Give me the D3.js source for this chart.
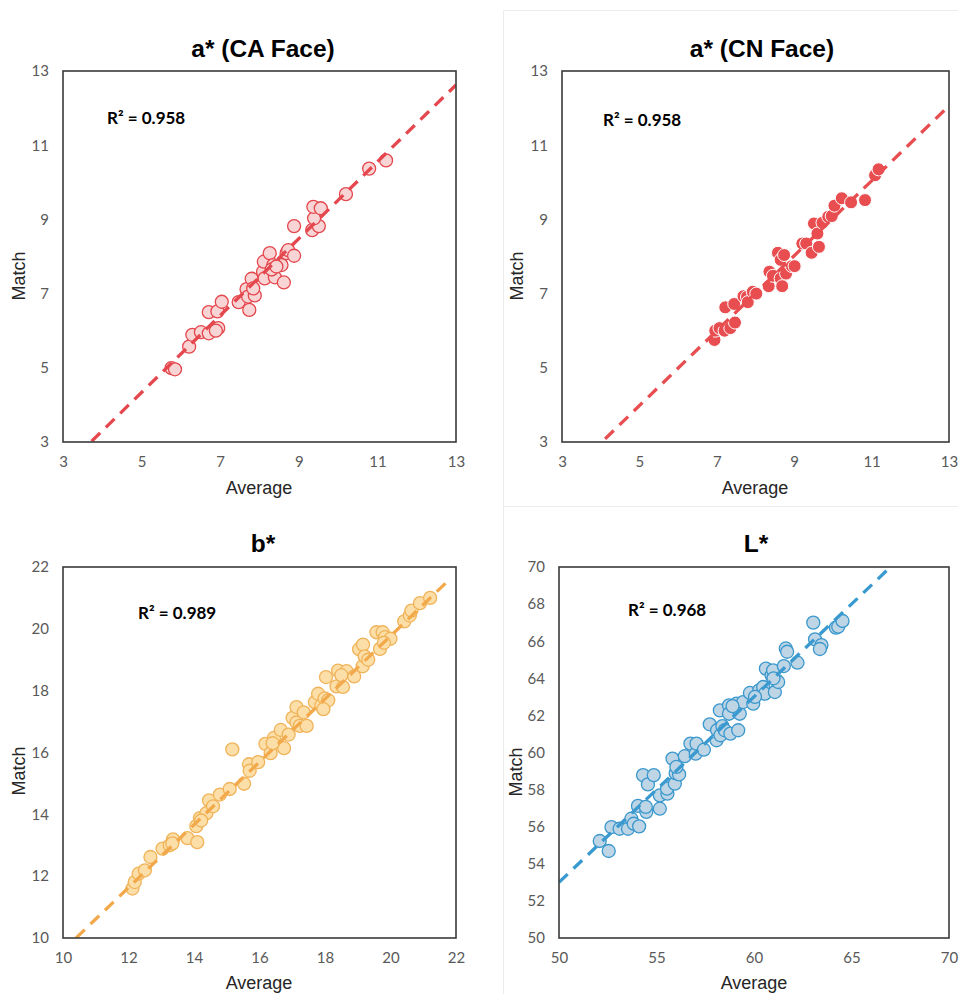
<!DOCTYPE html>
<html>
<head>
<meta charset="utf-8">
<script src="https://cdn.jsdelivr.net/npm/d3@7/dist/d3.min.js"></script>
<style>
  html, body { margin: 0; padding: 0; background: #fff; }
  svg { display: block; }
</style>
</head>
<body>
<svg id="chart" width="960" height="994"></svg>
<script>
// ---- Data: a* (CA Face) ----
const caAvg   = [5.76, 5.85, 6.21, 6.29, 6.51, 6.71, 6.71, 6.93, 6.95, 6.89, 7.04, 7.47, 7.74, 7.67, 7.71, 7.88, 7.80, 7.84, 8.09, 8.13,
                 8.11, 8.26, 8.35, 8.39, 8.56, 8.62, 8.31, 8.43, 8.69, 8.73, 8.88, 8.88, 9.34, 9.51, 9.39, 9.37, 9.56, 10.20, 10.79, 11.22];
const caMatch = [4.99, 4.96, 5.57, 5.89, 5.96, 5.93, 6.50, 6.52, 6.07, 6.00, 6.78, 6.77, 6.56, 7.12, 6.92, 6.95, 7.40, 7.14, 7.59, 7.41,
                 7.86, 8.09, 7.77, 7.44, 7.77, 7.30, 7.65, 7.73, 8.09, 8.17, 8.02, 8.82, 8.71, 8.82, 9.03, 9.34, 9.30, 9.68, 10.37, 10.59];

// ---- Data: a* (CN Face) ----
const cnAvg   = [6.94, 6.96, 7.07, 7.20, 7.35, 7.47, 7.22, 7.45, 7.69, 7.78, 7.80, 7.93, 8.02, 8.34, 8.36, 8.45, 8.58, 8.65, 8.65, 8.69,
                 8.74, 8.79, 8.94, 9.01, 9.21, 9.31, 9.45, 9.51, 9.60, 9.64, 9.73, 9.88, 9.97, 10.04, 10.23, 10.47, 10.83, 11.09, 11.18];
const cnMatch = [5.75, 6.00, 6.07, 6.00, 6.07, 6.22, 6.63, 6.72, 6.93, 6.91, 6.77, 7.05, 7.00, 7.20, 7.59, 7.48, 8.10, 7.91, 7.41, 7.20,
                 8.04, 7.54, 7.74, 7.74, 8.35, 8.35, 8.10, 8.89, 8.62, 8.26, 8.91, 9.07, 9.09, 9.37, 9.57, 9.46, 9.52, 10.19, 10.35];

// ---- Data: b* ----
const bAvg   = [12.12, 12.19, 12.31, 12.50, 12.67, 13.04, 13.26, 13.36, 13.34, 13.80, 14.10, 14.07, 14.18, 14.38, 14.46, 14.58, 14.79, 15.09, 15.17, 15.53,
                15.68, 15.70, 15.96, 16.18, 16.34, 16.44, 16.75, 16.65, 16.89, 17.01, 17.13, 17.13, 17.23, 17.44, 17.35, 17.69, 17.79, 17.89, 17.99, 18.10,
                18.03, 18.35, 18.40, 18.55, 18.66, 18.89, 19.04, 19.16, 19.15, 19.21, 19.32, 19.57, 19.68, 19.76, 19.83, 20.00, 20.42, 20.59, 20.64, 20.90,
                21.21, 14.22, 16.40, 17.95, 18.50, 19.80];
const bMatch = [11.60, 11.81, 12.08, 12.19, 12.62, 12.89, 13.00, 13.19, 13.06, 13.23, 13.10, 13.62, 13.88, 14.04, 14.45, 14.26, 14.64, 14.82, 16.10, 14.99,
                15.62, 15.41, 15.69, 16.28, 15.98, 16.47, 16.14, 16.73, 16.58, 17.12, 17.47, 16.97, 16.86, 16.86, 17.30, 17.63, 17.90, 17.52, 17.75, 17.69,
                18.44, 18.14, 18.65, 18.12, 18.63, 18.46, 19.34, 19.49, 18.79, 19.11, 19.00, 19.89, 19.35, 19.89, 19.73, 19.68, 20.24, 20.43, 20.59, 20.83,
                21.00, 13.80, 16.30, 17.40, 18.50, 19.55];

// ---- Data: L* ----
const lAvg   = [52.09, 52.55, 52.69, 53.11, 53.54, 53.71, 53.83, 54.11, 54.05, 54.31, 54.56, 54.48, 54.45, 54.86, 55.17, 55.17, 55.56, 55.54, 55.82, 55.94,
                55.98, 56.16, 56.02, 56.45, 56.74, 57.01, 57.05, 57.43, 57.73, 58.08, 58.11, 58.28, 58.25, 58.38, 58.50, 58.72, 58.72, 58.79, 59.10, 59.19,
                59.27, 59.44, 59.79, 59.96, 60.27, 60.47, 60.56, 60.61, 60.90, 60.98, 61.07, 61.15, 61.24, 61.53, 61.63, 61.70, 62.23, 63.04, 63.13, 63.46,
                63.38, 64.20, 64.32, 64.54, 58.90, 60.05, 61.00];
const lMatch = [55.23, 54.69, 55.98, 55.89, 55.89, 56.43, 56.16, 56.02, 57.12, 58.78, 58.28, 56.80, 57.07, 58.78, 56.97, 57.69, 57.78, 58.05, 59.67, 58.32,
                58.89, 58.82, 59.22, 59.80, 60.48, 59.94, 60.48, 60.15, 61.52, 60.66, 61.20, 60.93, 62.27, 61.42, 61.20, 62.54, 62.09, 61.02, 62.63, 61.20,
                62.09, 62.72, 63.21, 62.63, 63.35, 63.53, 63.17, 64.52, 64.16, 64.43, 63.26, 63.89, 63.80, 64.66, 65.61, 65.43, 64.84, 67.00, 66.10, 65.79,
                65.58, 66.73, 66.78, 67.09, 62.50, 63.00, 64.00];

// ---- Tick values ----
const aTicks  = [3, 5, 7, 9, 11, 13];
const bTicks  = [10, 12, 14, 16, 18, 20, 22];
const lXTicks = [50, 55, 60, 65, 70];
const lYTicks = [50, 52, 54, 56, 58, 60, 62, 64, 66, 68, 70];

// ---- Titles and fit statistics ----
const titles   = ["a* (CA Face)", "a* (CN Face)", "b*", "L*"];
const r2Labels = ["R² = 0.958", "R² = 0.958", "R² = 0.989", "R² = 0.968"];
// Linear trendline: Match = slope * Average + intercept, drawn over [xStart, xEnd]
const fitSlope     = [1.036, 1.010, 1.017, 1.000];
const fitIntercept = [-0.843, -1.070, -0.574, 3.000];
const fitXStart    = [3, 3, 10.4, 50];
const fitXEnd      = [13, 13, 21.8, 70];

// ---- Panel layout and styling ----
const panels = [
  { x: caAvg, y: caMatch, xDom: [3, 13], yDom: [3, 13], xTicks: aTicks, yTicks: aTicks,
    box: { l: 63, r: 456, t: 71, b: 442 }, titleX: 263, titleY: 48, r2X: 107, r2Y: 117,
    avgX: 259, avgY: 488, matchX: 19, matchY: 276,
    fill: "#f9d4d5", stroke: "#e4474d", sw: 1.3, line: "#e4474d" },
  { x: cnAvg, y: cnMatch, xDom: [3, 13], yDom: [3, 13], xTicks: aTicks, yTicks: aTicks,
    box: { l: 562, r: 949, t: 71, b: 442 }, titleX: 762, titleY: 48, r2X: 603, r2Y: 119,
    avgX: 755, avgY: 488, matchX: 517, matchY: 276,
    fill: "#e84d50", stroke: "#ffffff", sw: 1, line: "#e84d50" },
  { x: bAvg, y: bMatch, xDom: [10, 22], yDom: [10, 22], xTicks: bTicks, yTicks: bTicks,
    box: { l: 63, r: 456, t: 567, b: 938 }, titleX: 263, titleY: 543, r2X: 138, r2Y: 612,
    avgX: 259, avgY: 983, matchX: 19, matchY: 771,
    fill: "#fcdfa8", stroke: "#f0b359", sw: 1.3, line: "#f2a94b" },
  { x: lAvg, y: lMatch, xDom: [50, 70], yDom: [50, 70], xTicks: lXTicks, yTicks: lYTicks,
    box: { l: 559, r: 949, t: 567, b: 938 }, titleX: 756, titleY: 543, r2X: 628, r2Y: 609,
    avgX: 754, avgY: 983, matchX: 516, matchY: 772,
    fill: "#bdd5e5", stroke: "#3b98cd", sw: 1.3, line: "#3a9ad0" }
];

const svg = d3.select("#chart");

// faint chart-area edges on the right-hand charts
svg.append("path")
  .attr("d", "M503.5,994 L503.5,10.5 L958,10.5")
  .attr("fill", "none").attr("stroke", "#ececec").attr("stroke-width", 1);
svg.append("path")
  .attr("d", "M503.5,994 L503.5,506.5 L958,506.5")
  .attr("fill", "none").attr("stroke", "#ececec").attr("stroke-width", 1);

panels.forEach((p, i) => {
  const { l, r, t, b } = p.box;
  const xs = d3.scaleLinear().domain(p.xDom).range([l, r]);
  const ys = d3.scaleLinear().domain(p.yDom).range([b, t]);
  const g = svg.append("g");

  const clipId = "clip" + i;
  svg.append("defs").append("clipPath").attr("id", clipId)
    .append("rect").attr("x", l).attr("y", t).attr("width", r - l).attr("height", b - t);

  // axes: tick labels only
  const xAxis = g.append("g").attr("transform", `translate(0,${b})`)
    .call(d3.axisBottom(xs).tickValues(p.xTicks).tickSize(0).tickPadding(14).tickFormat(d3.format("d")));
  const yAxis = g.append("g").attr("transform", `translate(${l},0)`)
    .call(d3.axisLeft(ys).tickValues(p.yTicks).tickSize(0).tickPadding(14).tickFormat(d3.format("d")));
  [xAxis, yAxis].forEach(a => {
    a.select(".domain").remove();
    a.selectAll("text")
      .attr("font-family", "Lato, 'Open Sans', sans-serif")
      .attr("font-size", 15)
      .attr("fill", "#595959");
  });

  // points
  const pts = p.x.map((v, k) => [v, p.y[k]]);
  g.append("g").attr("clip-path", `url(#${clipId})`)
    .selectAll("circle").data(pts).join("circle")
    .attr("cx", d => xs(d[0]))
    .attr("cy", d => ys(d[1]))
    .attr("r", 6.5)
    .attr("fill", p.fill)
    .attr("stroke", p.stroke)
    .attr("stroke-width", p.sw);

  // trendline
  const x0 = fitXStart[i], x1 = fitXEnd[i];
  const fit = [[x0, fitSlope[i] * x0 + fitIntercept[i]], [x1, fitSlope[i] * x1 + fitIntercept[i]]];
  g.append("path")
    .attr("clip-path", `url(#${clipId})`)
    .datum(fit)
    .attr("d", d3.line().x(d => xs(d[0])).y(d => ys(d[1])))
    .attr("fill", "none")
    .attr("stroke", p.line)
    .attr("stroke-width", 3.3)
    .attr("stroke-dasharray", "12,8");

  // plot frame
  g.append("rect")
    .attr("x", l).attr("y", t).attr("width", r - l).attr("height", b - t)
    .attr("fill", "none").attr("stroke", "#3a3a3a").attr("stroke-width", 1.6);

  // title
  g.append("text")
    .attr("x", p.titleX).attr("y", p.titleY)
    .attr("text-anchor", "middle").attr("dominant-baseline", "central")
    .attr("font-family", "'Liberation Sans', Arial, sans-serif")
    .attr("font-weight", "bold").attr("font-size", 24.5)
    .attr("fill", "#000")
    .text(titles[i]);

  // R² annotation
  g.append("text")
    .attr("x", p.r2X).attr("y", p.r2Y)
    .attr("dominant-baseline", "central")
    .attr("font-family", "Lato, 'Open Sans', sans-serif")
    .attr("font-weight", "bold").attr("font-size", 17)
    .attr("fill", "#000")
    .text(r2Labels[i]);

  // axis titles
  g.append("text")
    .attr("x", p.avgX).attr("y", p.avgY)
    .attr("text-anchor", "middle").attr("dominant-baseline", "central")
    .attr("font-family", "'Liberation Sans', Arial, sans-serif")
    .attr("font-size", 18).attr("fill", "#262626")
    .text("Average");
  g.append("text")
    .attr("transform", `translate(${p.matchX},${p.matchY}) rotate(-90)`)
    .attr("text-anchor", "middle").attr("dominant-baseline", "central")
    .attr("font-family", "'Liberation Sans', Arial, sans-serif")
    .attr("font-size", 18).attr("fill", "#262626")
    .text("Match");
});
</script>
</body>
</html>
